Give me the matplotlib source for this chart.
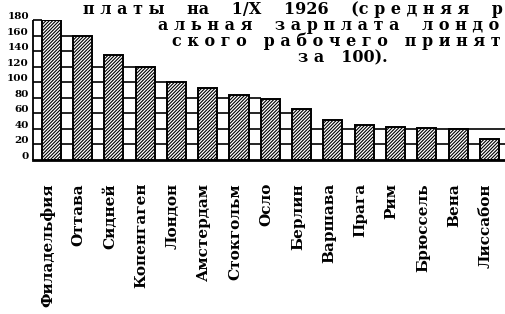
import matplotlib

matplotlib.use("Agg")

import matplotlib.pyplot as plt
import matplotlib.transforms as mtransforms
import numpy as np

# real wage index, London worker = 100
cities = [
    "Филадельфия", "Оттава", "Сидней", "Копенгаген", "Лондон",
    "Амстердам", "Стокгольм", "Осло", "Берлин", "Варшава",
    "Прага", "Рим", "Брюссель", "Вена", "Лиссабон",
]
wages = [180, 159, 135, 120, 100, 92, 83, 78, 65, 52, 45, 43, 41, 40, 27]
# height of the ruled white strips: left of the first bar, between bars, right of the last
strip_tops = [180, 160, 120, 120, 100, 80, 80, 80, 60, 40, 40, 40, 40, 40, 40, 40]
y_ticks = [0, 20, 40, 60, 80, 100, 120, 140, 160, 180]

title_lines = [
    "п л а т ы    на    1/X    1926    (с р е д н я я    р",
    "а л ь н а я    з а р п л а т а    л о н д о",
    "с к о г о   р а б о ч е г о   п р и н я т",
    "з а   100).",
]
title_x = [83, 158, 172, 298]
title_baseline = [13.5, 30, 46, 62]

serif = ["DejaVu Serif"]
W, H = 506, 314

fig = plt.figure(figsize=(W / 100, H / 100), dpi=100)
ax = fig.add_axes([33 / W, (H - 160) / H, 1 - 33 / W, 140 / H])

x = np.arange(len(cities))
bar_w = 0.61
x_lo, x_hi = -0.583, 14.53
ax.set_xlim(x_lo, x_hi)
ax.set_ylim(0, 180)

plt.rcParams["hatch.linewidth"] = 0.8

# ruled strips: a level is drawn in every strip that reaches it, and carried
# over a bar when the strips on both sides reach it (the bar hides the rest)
n = len(cities)
for level in range(20, 181, 20):
    for k, top in enumerate(strip_tops):
        if top < level:
            continue
        left = x_lo if k == 0 else x[k - 1] + bar_w / 2
        right = x_hi if k == n else x[k] - bar_w / 2
        if k < n and strip_tops[k + 1] >= level:
            right = x[k] + bar_w / 2
        ax.hlines(level, left, right, color="black", linewidth=1.2,
                  zorder=2, clip_on=False)

ax.vlines(x_lo, 0, strip_tops[0], color="black", linewidth=1.3, zorder=2, clip_on=False)

ax.bar(x, wages, width=bar_w, facecolor="white", edgecolor="black",
       hatch="//////////", linewidth=1.4, zorder=3)

ax.axhline(0, color="black", linewidth=2.0, zorder=4, clip_on=False)

for s in ax.spines.values():
    s.set_visible(False)

ax.set_xticks([])
ax.set_yticks(y_ticks)
ax.set_yticklabels([str(v) for v in y_ticks], fontfamily=serif,
                   fontweight="bold", fontsize=7.5)
ax.tick_params(axis="y", length=0, pad=3)
shift = mtransforms.ScaledTranslation(0, 0.045, fig.dpi_scale_trans)
for lab in ax.get_yticklabels():
    lab.set_transform(lab.get_transform() + shift)

for xi, name in zip(x, cities):
    ax.text(xi - 0.12, 0, name, rotation=90, ha="center", va="top",
            fontfamily=serif, fontweight="bold", fontsize=11,
            transform=ax.transData + mtransforms.ScaledTranslation(
                0, -0.23, fig.dpi_scale_trans))

for line, tx, ty in zip(title_lines, title_x, title_baseline):
    fig.text(tx / W, 1 - ty / H, line, ha="left", va="baseline",
             fontfamily=serif, fontweight="bold", fontsize=11.5)

fig.savefig("out.png", dpi=100)
